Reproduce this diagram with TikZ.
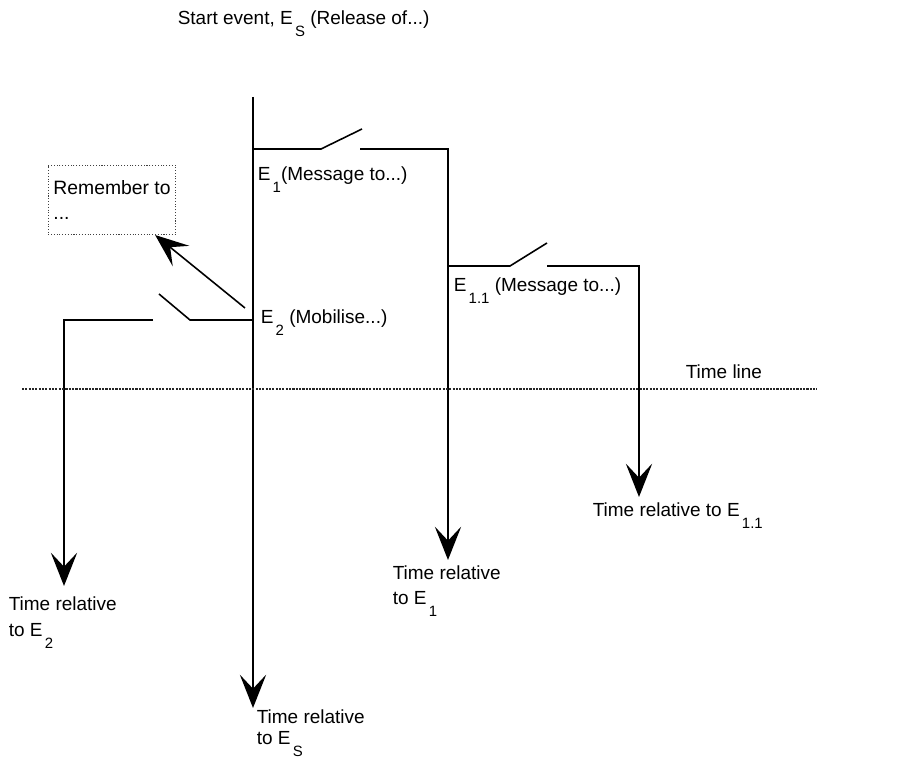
\documentclass[tikz,border=0pt]{standalone}
\usepackage{fontspec}
\setmainfont{Liberation Sans}
\usetikzlibrary{arrows.meta}
\newcommand{\evsub}[1]{\hspace{0.12em}\raisebox{-0.6em}{\fontsize{8.5}{9}\selectfont #1}}
\begin{document}
\begin{tikzpicture}[x=0.02cm, y=-0.02cm, line width=0.9pt,
  evlabel/.style={anchor=base west, inner sep=0pt, font=\fontsize{10.8}{13}\selectfont},
  timearrow/.style={-{Stealth[length=19pt, width=15pt, inset=8pt]}},
  memobox/.style={draw=black!75, densely dotted, line width=0.6pt, minimum width=2.48cm, minimum height=1.38cm, align=left, inner xsep=3pt, inner ysep=2pt, font=\fontsize{11}{14}\selectfont},
  timeline/.style={black!85, line width=1.1pt, dash pattern=on 1.2pt off 0.7pt}]
\useasboundingbox (0,0) rectangle (904,763);
\coordinate (s0) at (253,97);
\coordinate (sT) at (253,708);
\coordinate (a1) at (253,149);
\coordinate (a2) at (321,149);
\coordinate (a3) at (362,129);
\coordinate (a4) at (360,149);
\coordinate (e1) at (448,149);
\coordinate (e1T) at (448,560);
\coordinate (b1) at (253,320);
\coordinate (b2) at (190,320);
\coordinate (b3) at (159,294);
\coordinate (b4) at (153,320);
\coordinate (e2) at (64,320);
\coordinate (e2T) at (64,586);
\coordinate (c1) at (448,266);
\coordinate (c2) at (510,266);
\coordinate (c3) at (547,243);
\coordinate (c4) at (547,266);
\coordinate (e11) at (639,266);
\coordinate (e11T) at (639,497);
\coordinate (r0) at (245,308);
\coordinate (tl0) at (22,389);
\coordinate (tl1) at (817,389);
\node [evlabel] (startlbl) at (177,25) {Start event, E\evsub{S} (Release of...)};
\node [evlabel] (e1lbl) at (257,181) {E\evsub{1}(Message to...)};
\node [evlabel] (e2lbl) at (260,324) {E\evsub{2} (Mobilise...)};
\node [evlabel] (e11lbl) at (453,292) {E\evsub{1.1} (Message to...)};
\node [evlabel] (tllbl) at (685,379) {Time line};
\node [memobox] (memo) at (112,200) {Remember to\\...};
\node [evlabel] (t11lbl) at (592,517) {Time relative to E\evsub{1.1}};
\node [evlabel] (t1lbla) at (392,580) {Time relative};
\node [evlabel] (t1lblb) at (392,605) {to E\evsub{1}};
\node [evlabel] (t2lbla) at (8,611) {Time relative};
\node [evlabel] (t2lblb) at (8,637) {to E\evsub{2}};
\node [evlabel] (tSlbla) at (256,724) {Time relative};
\node [evlabel] (tSlblb) at (256,745) {to E\evsub{S}};
\draw [timearrow] (s0) -- (sT);
\draw (a1) -- (a2) -- (a3);
\draw [timearrow] (a4) -- (e1) -- (e1T);
\draw (b1) -- (b2) -- (b3);
\draw [timearrow] (b4) -- (e2) -- (e2T);
\draw (c1) -- (c2) -- (c3);
\draw [timearrow] (c4) -- (e11) -- (e11T);
\draw [timearrow] (r0) -- (memo);
\draw [timeline] (tl0) -- (tl1);
\end{tikzpicture}
\end{document}
